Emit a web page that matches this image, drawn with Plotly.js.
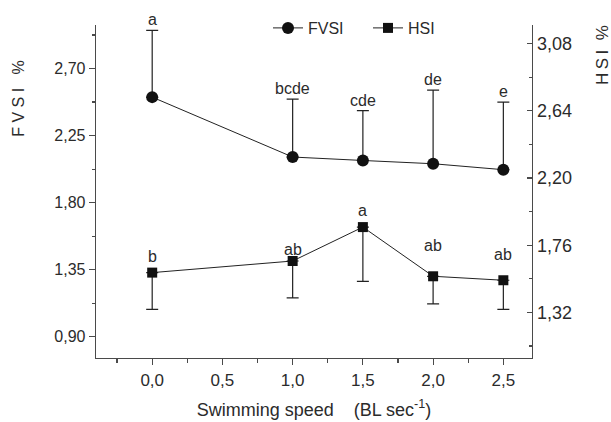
<!DOCTYPE html>
<html>
<head>
<meta charset="utf-8">
<script src="https://cdn.plot.ly/plotly-3.0.1.min.js"></script>
<style>html,body{margin:0;padding:0;background:#fff;}#chart{width:611px;height:422px;}</style>
</head>
<body>
<div id="chart"></div>
<script>
// Data
var speeds = [0.0, 1.0, 1.5, 2.0, 2.5];
var fvsi = [2.508, 2.106, 2.083, 2.061, 2.021];
var fvsiErr = [0.448, 0.389, 0.334, 0.494, 0.454];
var fvsiLetters = ["a", "bcde", "cde", "de", "e"];
var hsi = [1.581, 1.657, 1.879, 1.557, 1.531];
var hsiErr = [0.241, 0.242, 0.355, 0.181, 0.191];
var hsiLetters = ["b", "ab", "a", "ab", "ab"];
var leftTicks = [0.90, 1.35, 1.80, 2.25, 2.70];
var rightTicks = [1.32, 1.76, 2.20, 2.64, 3.08];
var xTicks = [0.0, 0.5, 1.0, 1.5, 2.0, 2.5];

var FONT = '"Liberation Sans", Arial, sans-serif';
var TXT = '#2b2b2b';
var AX = '#4a4a4a';
var NB = '\u00a0';
var TH = '\u2009';

var traces = [
  {
    x: speeds, y: fvsi, name: 'FVSI', type: 'scatter', mode: 'lines+markers',
    line: {color: '#222', width: 1},
    marker: {symbol: 'circle', size: 12, color: '#111'},
    error_y: {type: 'data', symmetric: false, array: fvsiErr, arrayminus: fvsiErr.map(function(){return 0;}),
              color: '#222', thickness: 1.2, width: 6},
    yaxis: 'y', legend: 'legend'
  },
  {
    x: speeds, y: hsi, name: 'HSI', type: 'scatter', mode: 'lines+markers',
    line: {color: '#222', width: 1},
    marker: {symbol: 'square', size: 10, color: '#111'},
    error_y: {type: 'data', symmetric: false, array: hsiErr.map(function(){return 0;}), arrayminus: hsiErr,
              color: '#222', thickness: 1.2, width: 6},
    yaxis: 'y2', legend: 'legend2'
  }
];

var hsiShift = [16, 12, 17, 31, 26];
var annotations = [];
for (var i = 0; i < speeds.length; i++) {
  annotations.push({
    x: speeds[i], y: fvsi[i] + fvsiErr[i], xref: 'x', yref: 'y',
    text: fvsiLetters[i], showarrow: false, yanchor: 'bottom', yshift: 0,
    font: {family: FONT, size: 16, color: TXT}
  });
  annotations.push({
    x: speeds[i], y: hsi[i], xref: 'x', yref: 'y2',
    text: hsiLetters[i], showarrow: false, yanchor: 'middle', yshift: hsiShift[i],
    font: {family: FONT, size: 16, color: TXT}
  });
}
annotations.push({
  xref: 'paper', yref: 'paper', x: -77/436, y: 1 - (98-24)/334,
  text: 'F' + NB + 'V' + NB + 'S' + NB + 'I' + NB + NB + NB + '%', textangle: -90, showarrow: false,
  xanchor: 'center', yanchor: 'middle', font: {family: FONT, size: 16, color: TXT}
});
annotations.push({
  xref: 'paper', yref: 'paper', x: (603-96)/436, y: 1 - (54-24)/334,
  text: 'H' + TH + 'S' + TH + 'I' + NB + NB + '%', textangle: -90, showarrow: false,
  xanchor: 'center', yanchor: 'middle', font: {family: FONT, size: 17, color: TXT}
});

var layout = {
  width: 611, height: 422,
  margin: {l: 96, r: 79, t: 24, b: 64},
  paper_bgcolor: '#fff', plot_bgcolor: '#fff',
  separators: ',.',
  font: {family: FONT, color: TXT},
  xaxis: {
    range: [-0.4, 2.704], tickvals: xTicks, tickformat: '.1f',
    showgrid: false, zeroline: false, showline: true, linecolor: AX, linewidth: 1.3,
    ticks: 'outside', ticklen: 6, tickcolor: AX, tickwidth: 1.2,
    minor: {dtick: 0.25, tick0: 0, ticks: 'outside', ticklen: 4, tickcolor: AX, tickwidth: 1.2, showgrid: false},
    tickfont: {family: FONT, size: 17, color: TXT},
    title: {text: 'Swimming speed' + NB + NB + NB + NB + '(BL sec<sup>-1</sup>)', font: {family: FONT, size: 18, color: TXT}, standoff: 14}
  },
  yaxis: {
    range: [0.7575, 2.992], tickvals: leftTicks, tickformat: '.2f',
    showgrid: false, zeroline: false, showline: true, linecolor: AX, linewidth: 1.3,
    ticks: 'outside', ticklen: 6, tickcolor: AX, tickwidth: 1.2,
    minor: {dtick: 0.225, tick0: 0.9, ticks: 'outside', ticklen: 3, tickcolor: AX, tickwidth: 1.2, showgrid: false},
    tickfont: {family: FONT, size: 16, color: TXT}
  },
  yaxis2: {
    overlaying: 'y', side: 'right',
    range: [1.022, 3.202], tickvals: rightTicks, tickformat: '.2f',
    showgrid: false, zeroline: false, showline: true, linecolor: AX, linewidth: 1.3,
    ticks: 'inside', ticklen: 5, tickcolor: AX, tickwidth: 1.2,
    minor: {dtick: 0.22, tick0: 1.32, ticks: 'inside', ticklen: 3, tickcolor: AX, tickwidth: 1.2, showgrid: false},
    tickfont: {family: FONT, size: 18, color: TXT}
  },
  showlegend: true,
  legend: {x: (268-96)/436, y: 1 - (28-24)/334, xanchor: 'left', yanchor: 'middle',
           orientation: 'h', bgcolor: 'rgba(0,0,0,0)', font: {family: FONT, size: 16, color: TXT}, itemwidth: 30},
  legend2: {x: (368-96)/436, y: 1 - (28-24)/334, xanchor: 'left', yanchor: 'middle',
           orientation: 'h', bgcolor: 'rgba(0,0,0,0)', font: {family: FONT, size: 16, color: TXT}, itemwidth: 30},
  annotations: annotations
};

Plotly.newPlot('chart', traces, layout, {displayModeBar: false, staticPlot: true});
</script>
</body>
</html>
